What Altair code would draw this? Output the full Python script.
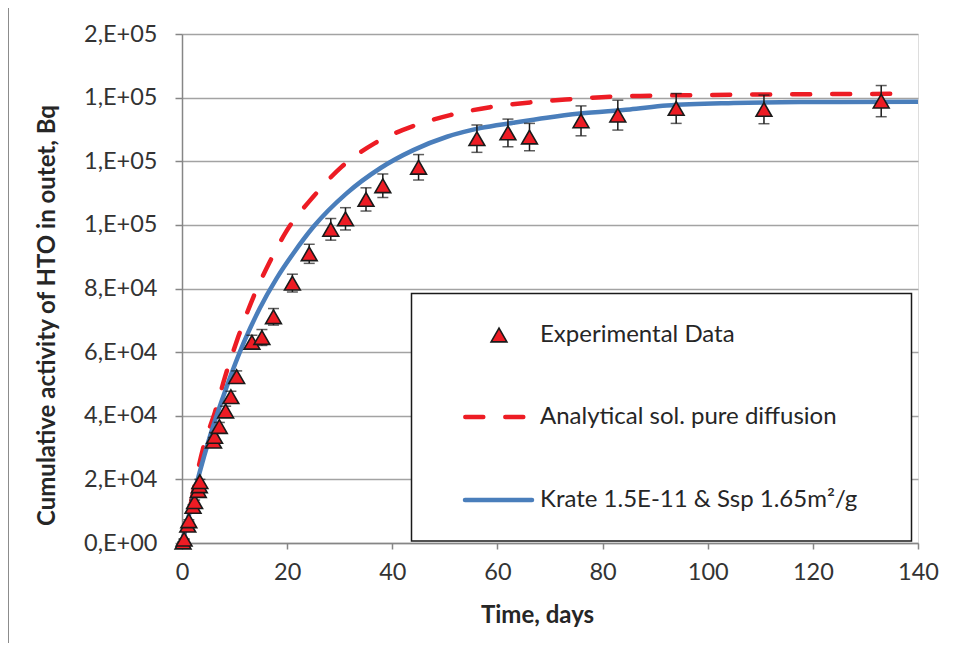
import altair as alt
import pandas as pd

# ---------------- data ----------------
exp_days = [0.2, 0.4, 1.1, 1.3, 2.1, 2.4, 3.1, 3.3, 3.4, 6.0, 6.2, 7.1, 8.3, 9.3, 10.4,
            13.3, 15.2, 17.4, 21.0, 24.2, 28.3, 31.1, 35.0, 38.2, 45.0, 56.1, 62.0,
            66.1, 75.9, 82.9, 94.0, 110.7, 133.0]
exp_vals = [300, 1200, 5600, 7000, 11500, 13000, 16500, 18000, 19300, 32000, 33500,
            36600, 41500, 46000, 52300, 63100, 64600, 71100, 81700, 90900, 98600,
            101900, 108000, 112300, 118100, 127100, 128900, 127600, 132700, 134500,
            136600, 136300, 138900]
exp_errs = [50, 100, 300, 300, 500, 500, 700, 700, 700, 1200, 1200, 1300, 1500, 1700,
            1800, 2200, 2500, 2600, 2800, 3000, 3400, 3500, 3650, 3700, 4000, 4300,
            4350, 4300, 4700, 4700, 4700, 4500, 4900]

ana_days = [0, 1, 2, 4.1, 6.3, 8.2, 10.7, 13.6, 16.7, 19.9, 25, 30.4, 36.7, 43.7, 51,
            58.6, 66.2, 73.8, 81.4, 89, 104.9, 120.7, 138.5]
ana_vals = [0, 7000, 15000, 30300, 41300, 52300, 64800, 77400, 88400, 98100, 108900,
            118300, 125700, 130900, 134500, 137000, 138500, 139500, 140300, 140600,
            140900, 141100, 141200]

krate_days = [0, 1, 2, 3.3, 5.3, 8.5, 11.7, 14.8, 18.0, 21.2, 25.0, 31.3, 37.7, 44,
              50.4, 56.7, 63, 69.4, 75.7, 85.2, 92.2, 104.9, 117.6, 140]
krate_vals = [0, 6500, 13500, 21900, 33400, 49100, 62800, 73800, 83200, 91100, 99400,
              109900, 117800, 123500, 127700, 130400, 132100, 133700, 135000, 136300,
              137500, 138300, 138600, 138700]

series_names = ["Experimental Data", "Analytical sol. pure diffusion",
                "Krate 1.5E-11 & Ssp 1.65m²/g"]
x_ticks = [0, 20, 40, 60, 80, 100, 120, 140]
y_ticks = [0, 20000, 40000, 60000, 80000, 100000, 120000, 140000, 160000]

# ---------------- tables ----------------
exp_df = pd.DataFrame({"day": exp_days, "val": exp_vals, "err": exp_errs})
exp_df["lo"] = exp_df["val"] - exp_df["err"]
exp_df["hi"] = exp_df["val"] + exp_df["err"]
ana_df = pd.DataFrame({"day": ana_days, "val": ana_vals})
krate_df = pd.DataFrame({"day": krate_days, "val": krate_vals})

W, H = 736, 509
FONT = "Lato"
RED = "#ED1C24"
BLUE = "#4A7EBB"
AXC = "#868686"
LBL = 23.5
TTL = 24

xs = alt.Scale(domain=[0, 140], nice=False, zero=False)
ys = alt.Scale(domain=[0, 160000], nice=False)

x_axis = alt.Axis(values=x_ticks, grid=False, title="Time, days",
                  labelFlush=False, labelOverlap=False,
                  domainColor=AXC, domainWidth=1.5, tickColor=AXC, tickWidth=1.5,
                  tickSize=6, labelFontSize=LBL, labelPadding=11, labelColor="#333333",
                  labelFont=FONT, titleFont=FONT, titleFontSize=TTL,
                  titleFontWeight="bold", titleColor="#262626",
                  titleX=355, titleY=72, titleBaseline="middle", titleAlign="center")
y_label_expr = ("datum.value == 0 ? '0,E+00' : "
                "format(round(datum.value / pow(10, floor(log(datum.value) / LN10 + 1e-9))), 'd')"
                " + ',E+' + (floor(log(datum.value) / LN10 + 1e-9) < 10 ? '0' : '')"
                " + floor(log(datum.value) / LN10 + 1e-9)")
y_axis = alt.Axis(values=y_ticks, grid=True, gridColor="#A3A3A3", gridWidth=1.5,
                  title="Cumulative activity of HTO in outet, Bq",
                  labelExpr=y_label_expr, labelFlush=False, labelOverlap=False,
                  domainColor=AXC, domainWidth=1.5, tickColor=AXC, tickWidth=1.5,
                  tickSize=7, labelFontSize=LBL, labelPadding=18, labelColor="#333333",
                  labelFont=FONT, titleFont=FONT, titleFontSize=TTL,
                  titleFontWeight="bold", titleColor="#262626",
                  titleAngle=270, titleX=-135, titleY=281,
                  titleBaseline="middle", titleAlign="center")

X = alt.X("day:Q", scale=xs, axis=x_axis)
Y = alt.Y("val:Q", scale=ys, axis=y_axis)

ana_line = alt.Chart(ana_df).mark_line(
    color=RED, strokeWidth=4.5, strokeDash=[18, 22], strokeCap="round",
    interpolate="monotone").encode(x=X, y=Y)

krate_line = alt.Chart(krate_df).mark_line(
    color=BLUE, strokeWidth=4.5, interpolate="monotone").encode(x=X, y=Y)

err_rule = alt.Chart(exp_df).mark_rule(color="#1a1a1a", strokeWidth=1.5).encode(
    x=X, y=alt.Y("lo:Q", scale=ys, axis=y_axis), y2="hi:Q")
err_cap_hi = alt.Chart(exp_df).mark_tick(color="#1a1a1a", thickness=1.5, size=11,
                                         orient="horizontal").encode(
    x=X, y=alt.Y("hi:Q", scale=ys, axis=y_axis))
err_cap_lo = alt.Chart(exp_df).mark_tick(color="#1a1a1a", thickness=1.5, size=11,
                                         orient="horizontal").encode(
    x=X, y=alt.Y("lo:Q", scale=ys, axis=y_axis))

points = alt.Chart(exp_df).mark_point(
    shape="triangle-up", size=250, filled=True, fill=RED, stroke="#1a1a1a",
    strokeWidth=1.6, opacity=1).encode(x=X, y=Y)

# ---------------- legend box (drawn by hand, like the reference) ----------------
one = pd.DataFrame({"k": [0]})
leg_box = alt.Chart(one).mark_rect(fill="white", stroke="#1a1a1a", strokeWidth=1.5).encode(
    x=alt.value(229.5), x2=alt.value(729.5), y=alt.value(259.5), y2=alt.value(507))
leg_tri = alt.Chart(one).mark_point(
    shape="triangle-up", size=250, filled=True, fill=RED, stroke="#1a1a1a",
    strokeWidth=1.6, opacity=1).encode(x=alt.value(317), y=alt.value(301))
leg_dash = alt.Chart(one).mark_rule(
    color=RED, strokeWidth=4.5, strokeDash=[18, 22], strokeCap="round").encode(
    x=alt.value(283.3), x2=alt.value(341.3), y=alt.value(383))
leg_solid = alt.Chart(one).mark_rule(
    color=BLUE, strokeWidth=4.5, strokeCap="round").encode(
    x=alt.value(283), x2=alt.value(350), y=alt.value(466))

def leg_text(name, ypx):
    return alt.Chart(pd.DataFrame({"label": [name]})).mark_text(
        align="left", baseline="middle", font=FONT, fontSize=TTL, color="#262626").encode(
        x=alt.value(358), y=alt.value(ypx), text="label:N")

leg_t1 = leg_text(series_names[0], 301)
leg_t2 = leg_text(series_names[1], 383)
leg_t3 = leg_text(series_names[2], 466)

# outer chart-area frame (left and top edges are the ones visible)
frame_left = alt.Chart(one).mark_rule(color="#8c8c8c", strokeWidth=2).encode(
    x=alt.value(-174), y=alt.value(-27), y2=alt.value(720))
frame_top = alt.Chart(one).mark_rule(color="#8c8c8c", strokeWidth=2).encode(
    x=alt.value(-174), x2=alt.value(820), y=alt.value(-27))

chart = alt.layer(
    ana_line, krate_line, err_rule, err_cap_hi, err_cap_lo, points,
    leg_box, leg_tri, leg_dash, leg_solid, leg_t1, leg_t2, leg_t3,
    frame_left, frame_top
).properties(
    width=W, height=H,
    padding={"left": 174, "top": 26, "right": 45, "bottom": 100},
    autosize=alt.AutoSizeParams(type="none"),
    background="white",
).configure_view(stroke=None).configure(font=FONT)

chart.save("out.html", embed_options={"renderer": "svg", "actions": False})
